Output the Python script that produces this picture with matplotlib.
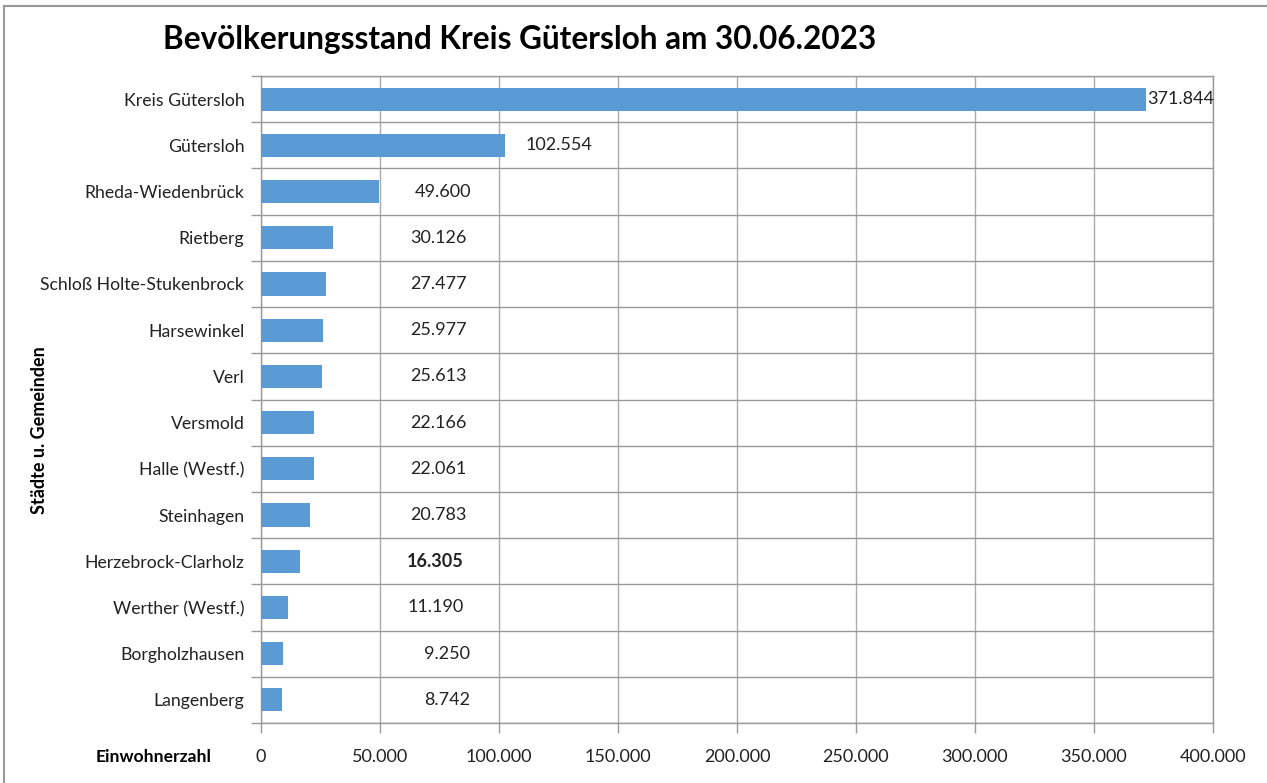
import matplotlib.pyplot as plt
from matplotlib.lines import Line2D
from matplotlib.ticker import FuncFormatter, MultipleLocator

plt.rcParams['font.family'] = ['Lato', 'DejaVu Sans']

gemeinden = ['Kreis Gütersloh', 'Gütersloh', 'Rheda-Wiedenbrück', 'Rietberg',
             'Schloß Holte-Stukenbrock', 'Harsewinkel', 'Verl', 'Versmold',
             'Halle (Westf.)', 'Steinhagen', 'Herzebrock-Clarholz',
             'Werther (Westf.)', 'Borgholzhausen', 'Langenberg']
einwohner = [371844, 102554, 49600, 30126, 27477, 25977, 25613, 22166,
             22061, 20783, 16305, 11190, 9250, 8742]

# where Excel put the value labels (centre, in data units)
label_pos = [386500, 125100, 76500, 74700, 74700, 74700, 74700, 74700,
             74700, 74700, 73300, 73500, 78000, 78000]

fig = plt.figure(figsize=(12.67, 7.83), dpi=100)
ax = fig.add_axes([261 / 1267, 1 - 723 / 783, 952 / 1267, 647 / 783])

pos = list(range(len(gemeinden)))
ax.barh(pos, einwohner, height=0.5, color='#5b9bd5', zorder=3)

for i, (v, x) in enumerate(zip(einwohner, label_pos)):
    ax.text(x, i, f'{v:,}'.replace(',', '.'), ha='center', va='center',
            fontsize=13, color='#222222',
            fontweight='bold' if gemeinden[i] == 'Herzebrock-Clarholz' else 'normal')

ax.set_xlim(0, 400000)
ax.set_ylim(len(gemeinden) - 0.5, -0.5)

ax.xaxis.set_major_locator(MultipleLocator(50000))
ax.xaxis.set_major_formatter(FuncFormatter(lambda v, p: f'{int(v):,}'.replace(',', '.')))
ax.set_yticks(pos)
ax.set_yticklabels(gemeinden)
ax.set_yticks([p - 0.5 for p in pos] + [len(pos) - 0.5], minor=True)

ax.tick_params(axis='x', length=7, width=1, color='#999999', pad=12, labelsize=13, labelcolor='#222222')
ax.tick_params(axis='y', which='major', length=0, pad=12, labelsize=12.7, labelcolor='#222222')
ax.tick_params(axis='y', which='minor', length=7, width=1, color='#999999')

ax.grid(axis='x', which='major', color='#aaaaaa', linewidth=1, zorder=0)
ax.grid(axis='y', which='minor', color='#999999', linewidth=1, zorder=0)
for s in ax.spines.values():
    s.set_color('#999999')
    s.set_linewidth(1)

fig.text(163 / 1267, 1 - 40 / 783, 'Bevölkerungsstand Kreis Gütersloh am 30.06.2023',
         fontsize=22.7, fontweight='bold', ha='left', va='center')
fig.text(40 / 1267, 1 - 430 / 783, 'Städte u. Gemeinden', rotation=90,
         fontsize=13, fontweight='bold', ha='center', va='center')
fig.text(212 / 1267, 1 - 757 / 783, 'Einwohnerzahl', fontsize=12.6,
         fontweight='bold', ha='right', va='center')

# frame of the chart area (cropped screenshot)
fig.add_artist(Line2D([4 / 1267, 4 / 1267], [0, 1 - 6 / 783], color='#999999', lw=1.5))
fig.add_artist(Line2D([4 / 1267, 1], [1 - 6 / 783, 1 - 6 / 783], color='#999999', lw=1.5))

fig.savefig('out.png', dpi=100)
